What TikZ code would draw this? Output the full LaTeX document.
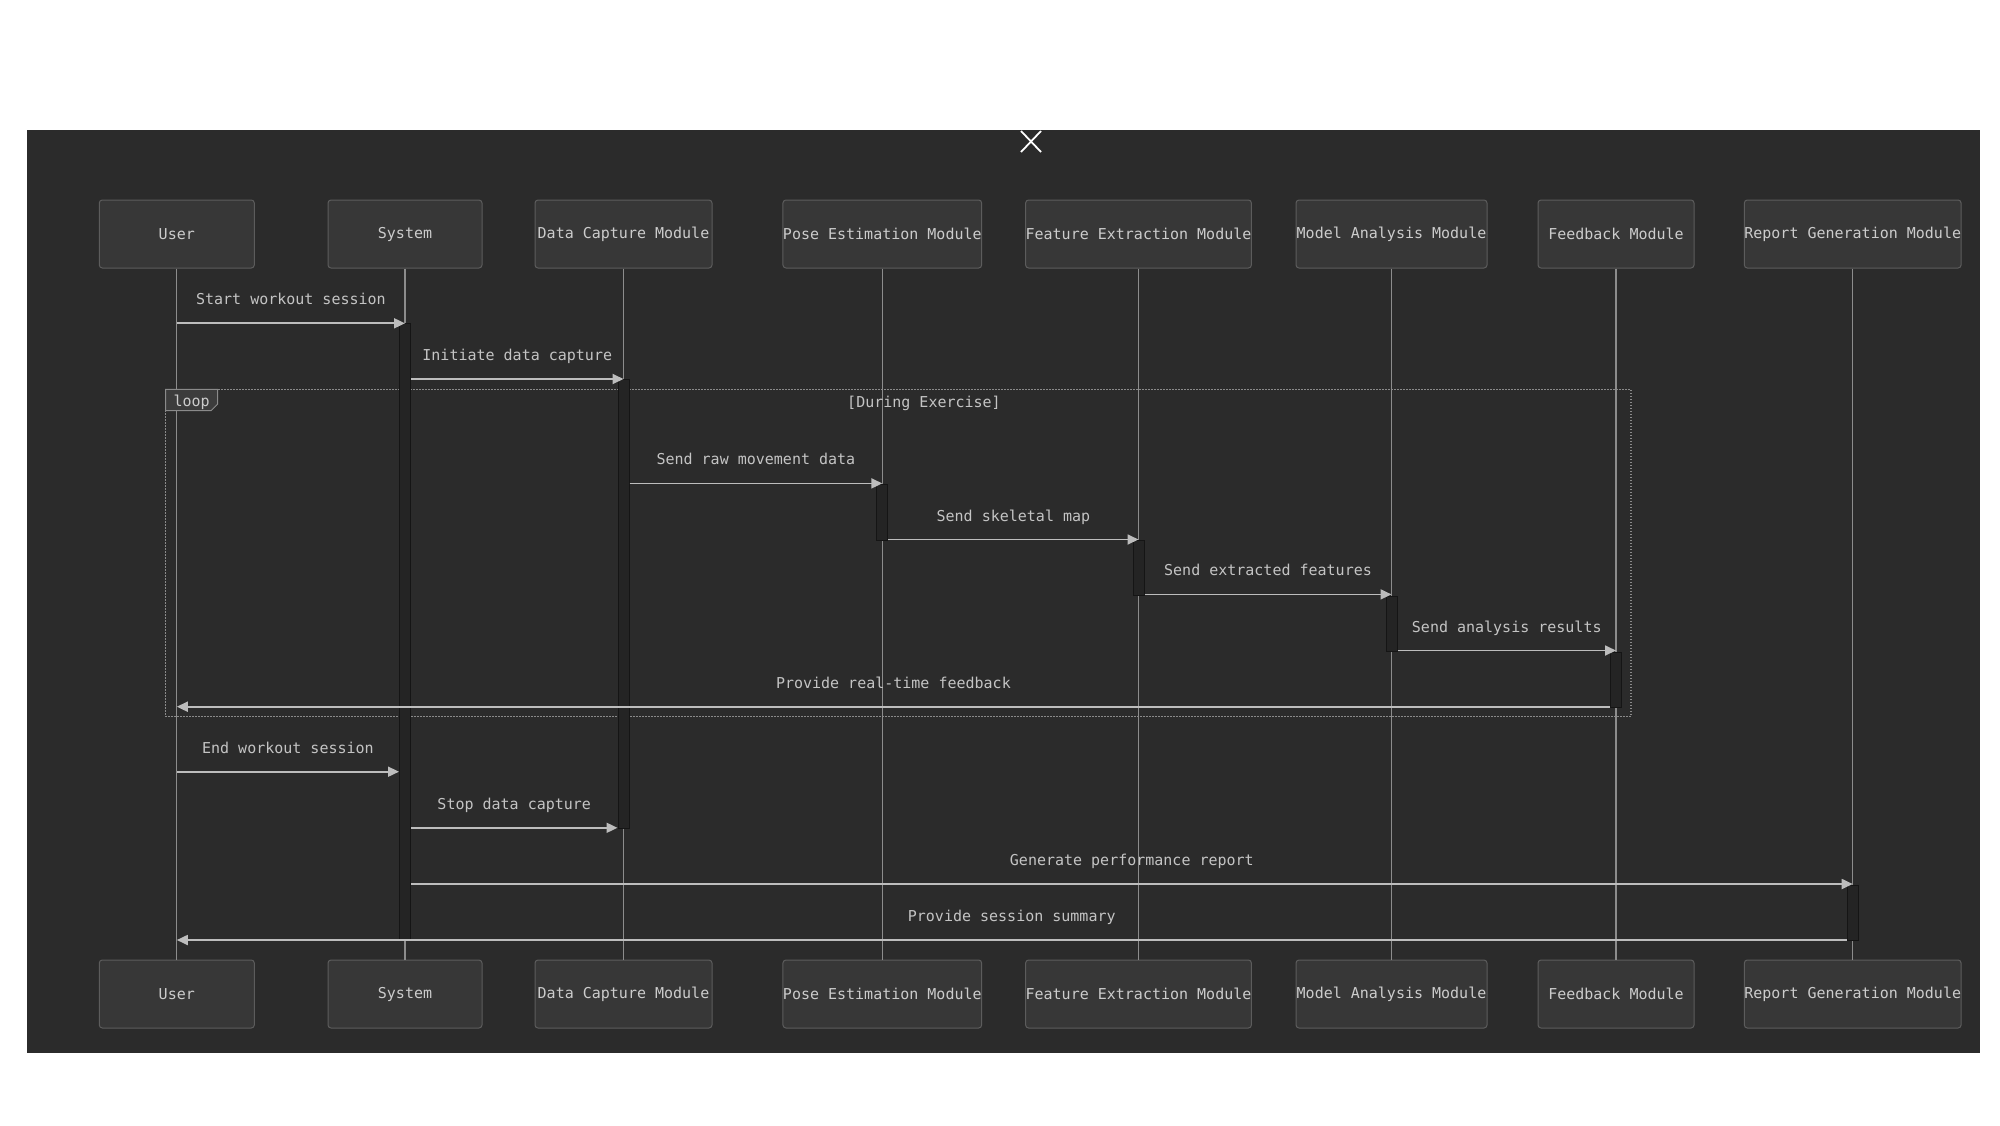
\documentclass[tikz,border=0pt]{standalone}
\usepackage{fontspec}
\setmonofont{DejaVu Sans Mono}
\usetikzlibrary{arrows.meta}

\definecolor{canvas}{HTML}{2B2B2B}
\definecolor{actfill}{HTML}{373737}
\definecolor{actline}{HTML}{5C5C5C}
\definecolor{acttext}{HTML}{CCCCCC}
\definecolor{lifecol}{HTML}{8C8C8C}
\definecolor{barfill}{HTML}{242424}
\definecolor{barline}{HTML}{151515}
\definecolor{msgcol}{HTML}{BDBDBD}
\definecolor{lbltext}{HTML}{C4C4C4}
\definecolor{framecol}{HTML}{8A8A8A}
\definecolor{tagfill}{HTML}{3C3C3C}

\newcommand\diagfont{\ttfamily\fontsize{15}{18}\selectfont}

\begin{document}
\begin{tikzpicture}[x=1pt,y=-1pt,
  actor/.style={draw=actline, fill=actfill, line width=1pt, rounded corners=3pt,
                minimum height=68pt, inner sep=0pt, text=acttext, font=\diagfont},
  life/.style={draw=lifecol, line width=1.3pt},
  bar/.style={draw=barline, fill=barfill, minimum width=11pt, inner sep=0pt, line width=1pt},
  msg/.style={draw=msgcol, line width=1.8pt, -{Triangle[length=11pt,width=10pt]}},
  lbl/.style={midway, anchor=base, yshift=18.5pt, text=lbltext, font=\diagfont},
  frame/.style={draw=framecol, line width=1.5pt, dash pattern=on 1.6pt off 1.4pt},
]
\useasboundingbox (0,0) rectangle (2000,1125);
\fill[white] (0,0) rectangle (2000,1125);
\fill[canvas] (26.8,130) rectangle (1979.6,1052.5);

% close mark
\draw[white, line width=1.8pt] (1021,131) -- (1041,152) (1041,131) -- (1021,152);

% participants, top row
\node[actor, minimum width=155pt] (uT) at (176.8,234) {User};
\node[actor, minimum width=154pt] (sT) at (405,234) {System};
\node[actor, minimum width=177pt] (dT) at (623.5,234) {Data Capture Module};
\node[actor, minimum width=196pt] (pT) at (882.3,234) {Pose Estimation Module};
\node[actor, minimum width=213pt] (fT) at (1138.5,234) {Feature Extraction Module};
\node[actor, minimum width=191pt] (mT) at (1391.5,234) {Model Analysis Module};
\node[actor, minimum width=156pt] (bT) at (1616,234) {Feedback Module};
\node[actor, minimum width=215pt] (rT) at (1852.7,234) {Report Generation Module};

% participants, bottom row
\node[actor, minimum width=155pt] (uB) at (176.8,994) {User};
\node[actor, minimum width=154pt] (sB) at (405,994) {System};
\node[actor, minimum width=177pt] (dB) at (623.5,994) {Data Capture Module};
\node[actor, minimum width=196pt] (pB) at (882.3,994) {Pose Estimation Module};
\node[actor, minimum width=213pt] (fB) at (1138.5,994) {Feature Extraction Module};
\node[actor, minimum width=191pt] (mB) at (1391.5,994) {Model Analysis Module};
\node[actor, minimum width=156pt] (bB) at (1616,994) {Feedback Module};
\node[actor, minimum width=215pt] (rB) at (1852.7,994) {Report Generation Module};

% lifelines
\foreach \p in {u,s,d,p,f,m,b,r}
  \draw[life] (\p T.south) -- (\p B.north);

% loop frame
\draw[frame] (165.6,389.3) rectangle (1631,716.5);
\path[draw=framecol, fill=tagfill, line width=1pt]
  (165.6,389.3) -- (217.7,389.3) -- (217.7,404) -- (211,410.7) -- (165.6,410.7) -- cycle;
\node[anchor=base, text=acttext, font=\diagfont] (looptag) at (191.6,406.5) {loop};
\node[anchor=base, text=lbltext, font=\diagfont] (loopcond) at (924,407) {[During Exercise]};

% activation bars
\node[bar, minimum height=617pt] (aS) at (405,631.5) {};
\node[bar, minimum height=449pt] (aD) at (623.5,603.5) {};
\node[bar, minimum height=56pt]  (aP) at (882.3,512) {};
\node[bar, minimum height=55pt]  (aF) at (1138.5,567.5) {};
\node[bar, minimum height=55pt]  (aM) at (1391.5,623.5) {};
\node[bar, minimum height=55pt]  (aB) at (1616,679.5) {};
\node[bar, minimum height=55pt]  (aR) at (1852.7,912.5) {};

% message rows
\coordinate (y1) at (0,323.3);
\coordinate (y2) at (0,379);
\coordinate (y3) at (0,483.4);
\coordinate (y4) at (0,539.5);
\coordinate (y5) at (0,594.4);
\coordinate (y6) at (0,650.5);
\coordinate (y7) at (0,706.7);
\coordinate (y8) at (0,771.7);
\coordinate (y9) at (0,827.8);
\coordinate (y10) at (0,884);
\coordinate (y11) at (0,940);

% messages
\draw[msg] (uT |- y1) -- node[lbl]{Start workout session} (sT |- y1);
\draw[msg] (aS.east |- y2) -- node[lbl]{Initiate data capture} (dT |- y2);
\draw[msg] (aD.east |- y3) -- node[lbl]{Send raw movement data} (pT |- y3);
\draw[msg] (aP.east |- y4) -- node[lbl]{Send skeletal map} (fT |- y4);
\draw[msg] (aF.east |- y5) -- node[lbl]{Send extracted features} (mT |- y5);
\draw[msg] (aM.east |- y6) -- node[lbl]{Send analysis results} (bT |- y6);
\draw[msg] (aB.west |- y7) -- node[lbl]{Provide real-time feedback} (uT |- y7);
\draw[msg] (uT |- y8) -- node[lbl]{End workout session} (aS.west |- y8);
\draw[msg] (aS.east |- y9) -- node[lbl]{Stop data capture} (aD.west |- y9);
\draw[msg] (aS.east |- y10) -- node[lbl]{Generate performance report} (rT |- y10);
\draw[msg] (aR.west |- y11) -- node[lbl]{Provide session summary} (uT |- y11);
\end{tikzpicture}
\end{document}
